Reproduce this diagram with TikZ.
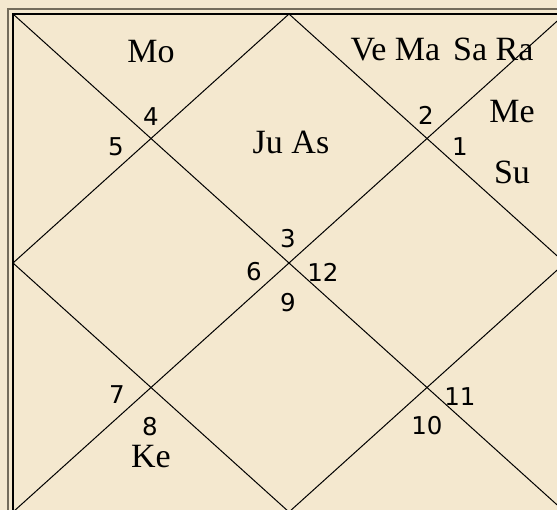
\documentclass[tikz,border=0pt]{standalone}
\usepackage{fontspec}
\setmainfont{Liberation Serif}
\newfontfamily\numfont{DejaVu Sans}
\definecolor{bg}{HTML}{F4E8CF}
\definecolor{frame}{HTML}{746C5B}
\tikzset{
  planet/.style={font=\fontsize{34}{34}\selectfont, inner sep=0pt, anchor=center},
  house/.style={font=\numfont\fontsize{24.5}{24.5}\selectfont, inner sep=0pt, anchor=center},
  chartline/.style={draw=black, line width=1pt},
}
\begin{document}
\begin{tikzpicture}[x=1pt,y=-1pt]
\useasboundingbox (0,0) rectangle (557,510);
\fill[bg] (0,0) rectangle (557,510);
\begin{scope}
\clip (0,0) rectangle (557,510);
\draw[frame, line width=2pt] (8,9.5) rectangle (575,525);
\coordinate (TL) at (13,14);
\coordinate (TR) at (565,14);
\coordinate (BL) at (13,512);
\coordinate (BR) at (565,512);
\coordinate (T) at (289,14);
\coordinate (R) at (565,263);
\coordinate (B) at (289,512);
\coordinate (L) at (13,263);
\draw[chartline, line width=1.3pt] (TL) rectangle (BR);
\draw[chartline] (TL) -- (BR);
\draw[chartline] (TR) -- (BL);
\draw[chartline] (T) -- (R) -- (B) -- (L) -- cycle;
\end{scope}
% planets
\node[planet] (mo) at (151,52) {Mo};
\node[planet] (vemasara) at (442,50) {Ve Ma\hspace{13pt}Sa Ra};
\node[planet] (me) at (512,112) {Me};
\node[planet] (su) at (512,172) {Su};
\node[planet] (juas) at (291,142) {Ju As};
\node[planet] (ke) at (151,457) {Ke};
% house numbers
\node[house] (h4) at (151,117) {4};
\node[house] (h5) at (116,147) {5};
\node[house] (h2) at (426,115) {2};
\node[house] (h1) at (460,147) {1};
\node[house] (h3) at (288,239) {3};
\node[house] (h6) at (254,272) {6};
\node[house] (h12) at (323,272) {12};
\node[house] (h9) at (288,303) {9};
\node[house] (h7) at (117,395) {7};
\node[house] (h8) at (150,427) {8};
\node[house] (h11) at (460,397) {11};
\node[house] (h10) at (427,426) {10};
\end{tikzpicture}
\end{document}
